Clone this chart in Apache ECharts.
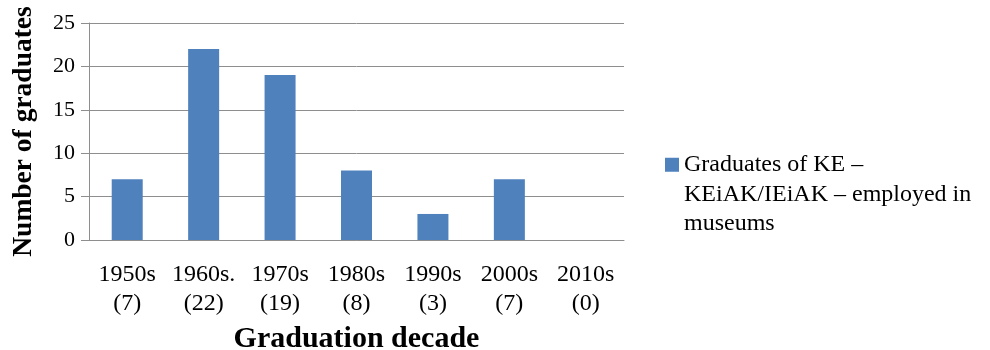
<!DOCTYPE html>
<html>
<head>
<meta charset="utf-8">
<script src="https://cdn.jsdelivr.net/npm/echarts@6/dist/echarts.min.js"></script>
<style>
  html, body { margin: 0; padding: 0; background: #fff; }
  #chart { width: 990px; height: 350px; }
</style>
</head>
<body>
<div id="chart"></div>
<script>
// Graduates employed in museums, by decade of graduation
const decades = ['1950s', '1960s.', '1970s', '1980s', '1990s', '2000s', '2010s'];
const graduates = [7, 22, 19, 8, 3, 7, 0];
const seriesName = 'Graduates of KE –\nKEiAK/IEiAK – employed in\nmuseums';
const yTicks = { min: 0, max: 25, interval: 5 };

const serif = 'Liberation Serif';
const gridGray = '#8e8e8e';

const chart = echarts.init(document.getElementById('chart'), null, { renderer: 'canvas' });

chart.setOption({
  animation: false,
  backgroundColor: '#ffffff',
  textStyle: { fontFamily: serif },
  grid: { left: 89, right: 366, top: 23, bottom: 110, containLabel: false, outerBoundsMode: 'none' },
  legend: {
    left: 665,
    top: 91,
    padding: 0,
    orient: 'vertical',
    itemWidth: 14,
    itemHeight: 14,
    icon: 'rect',
    data: [seriesName],
    // two blank lines above keep the swatch level with the first text line
    formatter: name => '\n\n' + name,
    textStyle: {
      fontFamily: serif,
      fontSize: 24,
      lineHeight: 29.5,
      color: '#000'
    }
  },
  xAxis: {
    type: 'category',
    data: decades,
    name: 'Graduation decade',
    nameLocation: 'middle',
    nameGap: 84,
    nameTextStyle: { fontFamily: serif, fontSize: 30, fontWeight: 'bold', color: '#000' },
    axisLine: { lineStyle: { color: gridGray, width: 1 } },
    axisTick: { show: false },
    axisLabel: {
      interval: 0,
      margin: 20,
      fontFamily: serif,
      fontSize: 24,
      lineHeight: 29,
      color: '#000',
      formatter: (v, i) => v + '\n(' + graduates[i] + ')'
    }
  },
  yAxis: {
    type: 'value',
    min: yTicks.min,
    max: yTicks.max,
    interval: yTicks.interval,
    name: 'Number of graduates',
    nameLocation: 'middle',
    nameGap: 51,
    nameTextStyle: { fontFamily: serif, fontSize: 27.5, fontWeight: 'bold', color: '#000' },
    axisLine: { show: true, lineStyle: { color: gridGray, width: 1 } },
    axisTick: { show: true, length: 8, lineStyle: { color: gridGray } },
    splitLine: { show: true, lineStyle: { color: gridGray, width: 1 } },
    axisLabel: { margin: 14, fontFamily: serif, fontSize: 22, color: '#000' }
  },
  series: [{
    name: seriesName,
    type: 'bar',
    data: graduates,
    barWidth: 31,
    itemStyle: { color: '#4f81bd' }
  }]
});
</script>
</body>
</html>
